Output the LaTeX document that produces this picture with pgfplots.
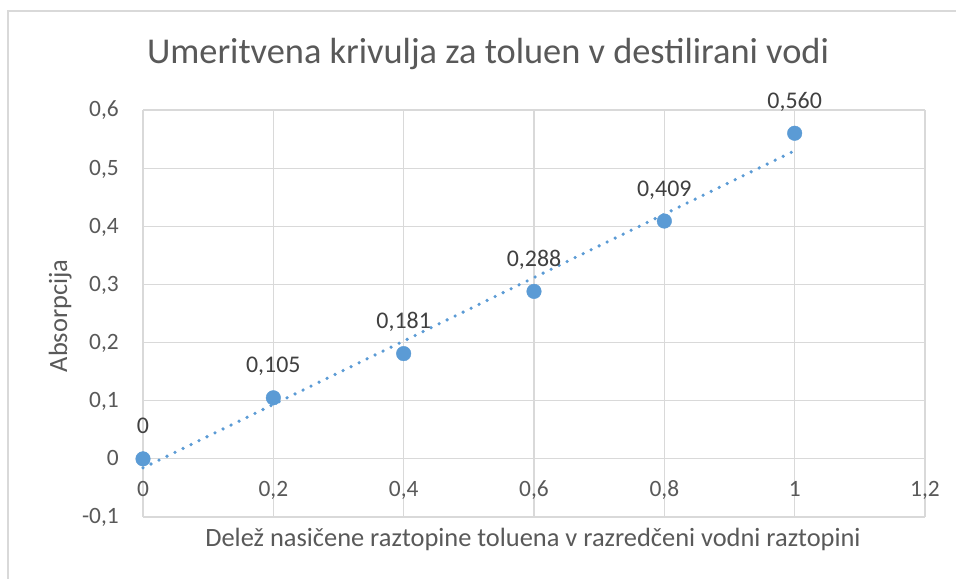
\documentclass[border=0pt]{standalone}
\usepackage{pgfplots}
\pgfplotsset{compat=1.18}
\usepackage{fontspec}
\setmainfont{Carlito}
\definecolor{ser}{HTML}{5B9BD5}
\definecolor{gridc}{HTML}{D9D9D9}
\definecolor{txt}{HTML}{595959}
\definecolor{dlab}{HTML}{404040}
\begin{document}
\begin{tikzpicture}[x=1bp,y=1bp]
\useasboundingbox (0,0) rectangle (956,579);
\fill[white] (0,0) rectangle (956,579);
\draw[gridc, line width=1.2bp] (8,0) -- (8,568) -- (956,568);
\node[anchor=base, text=txt, inner sep=0pt, font=\fontsize{36.5}{42}\selectfont] at (488,515) {Umeritvena krivulja za toluen v destilirani vodi};
\begin{axis}[
  at={(143bp,62bp)}, anchor=south west,
  width=782bp, height=407bp, scale only axis,
  xmin=0, xmax=1.2, ymin=-0.1, ymax=0.6,
  axis line style={draw=none},
  major tick length=0pt,
  xtick={0,0.2,0.4,0.6,0.8,1,1.2},
  xticklabels={0,{0,2},{0,4},{0,6},{0,8},1,{1,2}},
  ytick={-0.1,0,0.1,0.2,0.3,0.4,0.5,0.6},
  yticklabels={{-0,1},0,{0,1},{0,2},{0,3},{0,4},{0,5},{0,6}},
  grid=major,
  grid style={gridc, line width=1.2bp},
  xticklabel style={anchor=base, yshift=20bp, inner sep=0pt, text=txt, font=\fontsize{23.5}{28}\selectfont},
  yticklabel style={anchor=base east, xshift=-24bp, yshift=-7bp, inner sep=0pt, text=txt, font=\fontsize{23.5}{28}\selectfont},
  clip=false,
]
\addplot[only marks, mark=*, mark size=7.3bp, color=ser, mark options={draw=ser, fill=ser},
  nodes near coords, point meta=explicit symbolic,
  every node near coord/.append style={anchor=base, yshift=25bp, inner sep=0pt, text=dlab, font=\fontsize{24}{28}\selectfont}]
  table[meta=label] {
x y label
0 0 0
0.2 0.105 0,105
0.4 0.181 0,181
0.6 0.288 0,288
0.8 0.409 0,409
1 0.560 0,560
};
\addplot[color=ser, line width=3.6bp, line cap=round, dash pattern=on 0bp off 8.9bp] coordinates {(0,-0.0156) (1,0.5300)};
\end{axis}
\node[rotate=90, anchor=base, text=txt, inner sep=0pt, font=\fontsize{26.5}{30}\selectfont] at (67,263) {Absorpcija};
\node[anchor=base, text=txt, inner sep=0pt, font=\fontsize{26.5}{30}\selectfont] at (533,32) {Delež nasičene raztopine toluena v razredčeni vodni raztopini};
\end{tikzpicture}
\end{document}
